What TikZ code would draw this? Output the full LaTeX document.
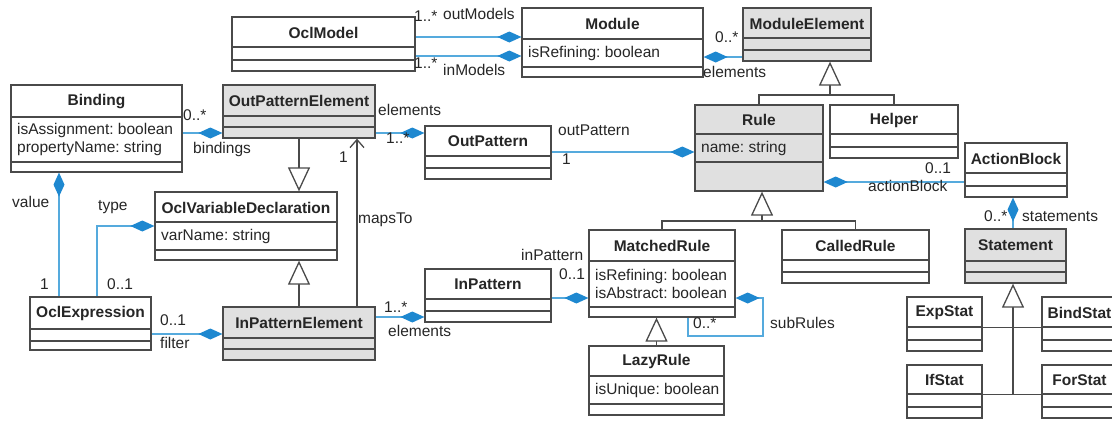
\documentclass[tikz,border=0pt]{standalone}
\usepackage{fontspec}
\setmainfont{Liberation Sans}
\usetikzlibrary{arrows.meta,fit}
\pgfdeclarelayer{bg}
\pgfsetlayers{bg,main}
\frenchspacing
\definecolor{bord}{HTML}{4A4A4A}
\definecolor{hdr}{HTML}{E0E0E0}
\definecolor{shd}{HTML}{EDEDED}
\definecolor{aline}{HTML}{55AADD}
\definecolor{dia}{HTML}{1E88D0}
\newcommand{\dfs}{\fontsize{15.5}{18.5}\selectfont}
\tikzset{
  box/.style={draw=bord, line width=1.3pt, inner sep=0pt},
  sepl/.style={draw=bord, line width=1.2pt},
  ttl/.style={font=\dfs\bfseries, inner sep=0pt, text=black!85},
  attr/.style={anchor=west, inner sep=0pt, align=left, font=\dfs, text=black!85},
  lbl/.style={anchor=mid west, inner sep=0pt, font=\dfs, text=black!85},
  assoc/.style={draw=aline, line width=1.5pt},
  comp/.style={assoc, {Diamond[length=24pt,width=11pt,fill=dia,color=dia]}-},
  gen/.style={draw=bord, line width=1.3pt, -{Triangle[open,fill=white,length=24pt,width=22pt]}},
  genl/.style={draw=bord, line width=1.3pt},
  genthin/.style={draw=bord, line width=0.9pt},
  nav/.style={draw=bord, line width=1.3pt, -{Straight Barb[length=8pt,width=14pt]}},
}
\newcommand{\umlcls}[9]{%
  \begin{pgfonlayer}{bg}\fill[shd] ({#2+7},{#3+7}) rectangle ({#4+7},{#5+7});\end{pgfonlayer}
  \fill[#8] (#2,#3) rectangle (#4,#5);
  \node[box, fit={(#2,#3) (#4,#5)}] (#1) {};
  \draw[sepl] (#2,#6) -- (#4,#6) (#2,#7) -- (#4,#7);
  \node[ttl] (#1-t) at ({(#2+#4)/2},{(#3+#6)/2+0.5}) {#9};
}
\begin{document}
\begin{tikzpicture}[x=1pt,y=-1pt]
\useasboundingbox (0,0) rectangle (1112,426);
\clip (0,0) rectangle (1112,426);
\fill[white] (0,0) rectangle (1112,426);
% classes
\umlcls{oclmodel}{232}{17}{415}{71}{47}{60}{white}{OclModel}
\umlcls{module}{522}{8}{703}{77}{39}{67}{white}{Module}
\node[attr] (module-a) at (528,53) {isRefining: boolean};
\umlcls{modelem}{743}{8}{871}{61}{38}{50}{hdr}{ModuleElement}
\umlcls{binding}{11}{85}{182}{172}{117}{162}{white}{Binding}
\node[attr] (binding-a) at (17,139.5) {isAssignment: boolean\\propertyName: string};
\umlcls{ope}{223}{85}{375}{138}{116}{127}{hdr}{OutPatternElement}
\umlcls{outpattern}{425}{126}{551}{179}{156}{168}{white}{OutPattern}
\umlcls{rule}{695}{105}{823}{191}{134}{162}{hdr}{Rule}
\node[attr] (rule-a) at (701,148) {name: string};
\umlcls{helper}{830}{105}{958}{158}{134}{147}{white}{Helper}
\umlcls{actionblock}{965}{143}{1067}{197}{173}{186}{white}{ActionBlock}
\umlcls{ovd}{155}{192}{337}{260}{222}{250}{white}{OclVariableDeclaration}
\node[attr] (ovd-a) at (161,236) {varName: string};
\umlcls{oclexpr}{30}{297}{151}{350}{329}{341}{white}{OclExpression}
\umlcls{ipe}{223}{307}{375}{360}{338}{349}{hdr}{InPatternElement}
\umlcls{inpattern}{425}{269}{551}{322}{299}{311}{white}{InPattern}
\umlcls{matchedrule}{589}{230}{735}{317}{261}{307}{white}{MatchedRule}
\node[attr] (matchedrule-a) at (595,284) {isRefining: boolean\\isAbstract: boolean};
\umlcls{calledrule}{782}{230}{929}{283}{260}{272}{white}{CalledRule}
\umlcls{lazyrule}{589}{346}{724}{415}{376}{404}{white}{LazyRule}
\node[attr] (lazyrule-a) at (595,390) {isUnique: boolean};
\umlcls{statement}{965}{229}{1066}{283}{261}{272}{hdr}{Statement}
\umlcls{expstat}{907}{297}{982}{351}{327}{340}{white}{ExpStat}
\umlcls{bindstat}{1042}{297}{1117}{351}{327}{340}{white}{BindStat}
\umlcls{ifstat}{907}{365}{982}{418}{394}{407}{white}{IfStat}
\umlcls{forstat}{1042}{365}{1117}{418}{394}{407}{white}{ForStat}
% compositions
\draw[comp] (module.west |- 0,37) -- (oclmodel.east |- 0,37);
\draw[comp] (module.west |- 0,56) -- (oclmodel.east |- 0,56);
\draw[comp] (module.east |- 0,57) -- (modelem.west |- 0,57);
\draw[comp] (ope.west |- 0,133) -- (binding.east |- 0,133);
\draw[comp] (outpattern.west |- 0,133) -- (ope.east |- 0,133);
\draw[comp] (rule.west |- 0,152) -- (outpattern.east |- 0,152);
\draw[comp] (rule.east |- 0,182) -- (actionblock.west |- 0,182);
\draw[comp] (actionblock.south -| 1013,0) -- (statement.north -| 1013,0);
\draw[comp] (binding.south -| 59,0) -- (oclexpr.north -| 59,0);
\draw[comp] (ovd.west |- 0,226) -| (oclexpr.north -| 97,0);
\draw[comp] (ipe.west |- 0,334) -- (oclexpr.east |- 0,334);
\draw[comp] (inpattern.west |- 0,317) -- (ipe.east |- 0,317);
\draw[comp] (matchedrule.west |- 0,298) -- (inpattern.east |- 0,298);
\coordinate (sr1) at (763,298);
\coordinate (sr2) at (688,336);
\draw[comp] (matchedrule.east |- sr1) -- (sr1) |- (sr2) -- (sr2 |- matchedrule.south);
% navigable association
\draw[nav] (ipe.north -| 357,0) -- (ope.south -| 357,0);
% generalizations
\draw[gen] (ope.south) -- (ope.south |- ovd.north);
\draw[gen] (ipe.north) -- (ipe.north |- ovd.south);
\coordinate (mej) at (830,95);
\draw[gen] (mej) -- (mej |- modelem.south);
\draw[genl] (rule.north) |- (mej);
\draw[genl] (helper.north) |- (mej);
\coordinate (rj) at (762,221);
\draw[gen] (rj) -- (rj |- rule.south);
\draw[genl] (matchedrule.north) |- (rj);
\draw[genl] (calledrule.north) |- (rj);
\draw[gen] (lazyrule.north) -- (lazyrule.north |- matchedrule.south);
\coordinate (sj) at (1013,394);
\draw[gen] (sj) -- (sj |- statement.south);
\draw[genthin] (expstat.east |- 0,327) -- (bindstat.west |- 0,327);
\draw[genthin] (ifstat.east |- 0,394) -- (forstat.west |- 0,394);
% labels
\node[lbl] (l1) at (414,19) {1..*};
\node[lbl] (l2) at (443,17) {outModels};
\node[lbl] (l3) at (414,66) {1..*};
\node[lbl] (l4) at (443,73) {inModels};
\node[lbl] (l5) at (715,40) {0..*};
\node[lbl] (l6) at (703,75) {elements};
\node[lbl] (l7) at (183,118) {0..*};
\node[lbl] (l8) at (193,151) {bindings};
\node[lbl] (l9) at (378,113) {elements};
\node[lbl] (l10) at (386,141) {1..*};
\node[lbl] (l11) at (558,133) {outPattern};
\node[lbl] (l12) at (562,162) {1};
\node[lbl] (l13) at (925,171) {0..1};
\node[lbl] (l14) at (868,189) {actionBlock};
\node[lbl] (l15) at (984,219) {0..*};
\node[lbl] (l16) at (1022,219) {statements};
\node[lbl] (l17) at (12,205) {value};
\node[lbl] (l18) at (98,208) {type};
\node[lbl] (l19) at (358,221) {mapsTo};
\node[lbl] (l20) at (339,160) {1};
\node[lbl] (l21) at (40,287) {1};
\node[lbl] (l22) at (107,287) {0..1};
\node[lbl] (l23) at (160,323) {0..1};
\node[lbl] (l24) at (160,346) {filter};
\node[lbl] (l25) at (521,258) {inPattern};
\node[lbl] (l26) at (559,277) {0..1};
\node[lbl] (l27) at (384,310) {1..*};
\node[lbl] (l28) at (388,334) {elements};
\node[lbl] (l29) at (693,326) {0..*};
\node[lbl] (l30) at (770,326) {subRules};
\end{tikzpicture}
\end{document}
